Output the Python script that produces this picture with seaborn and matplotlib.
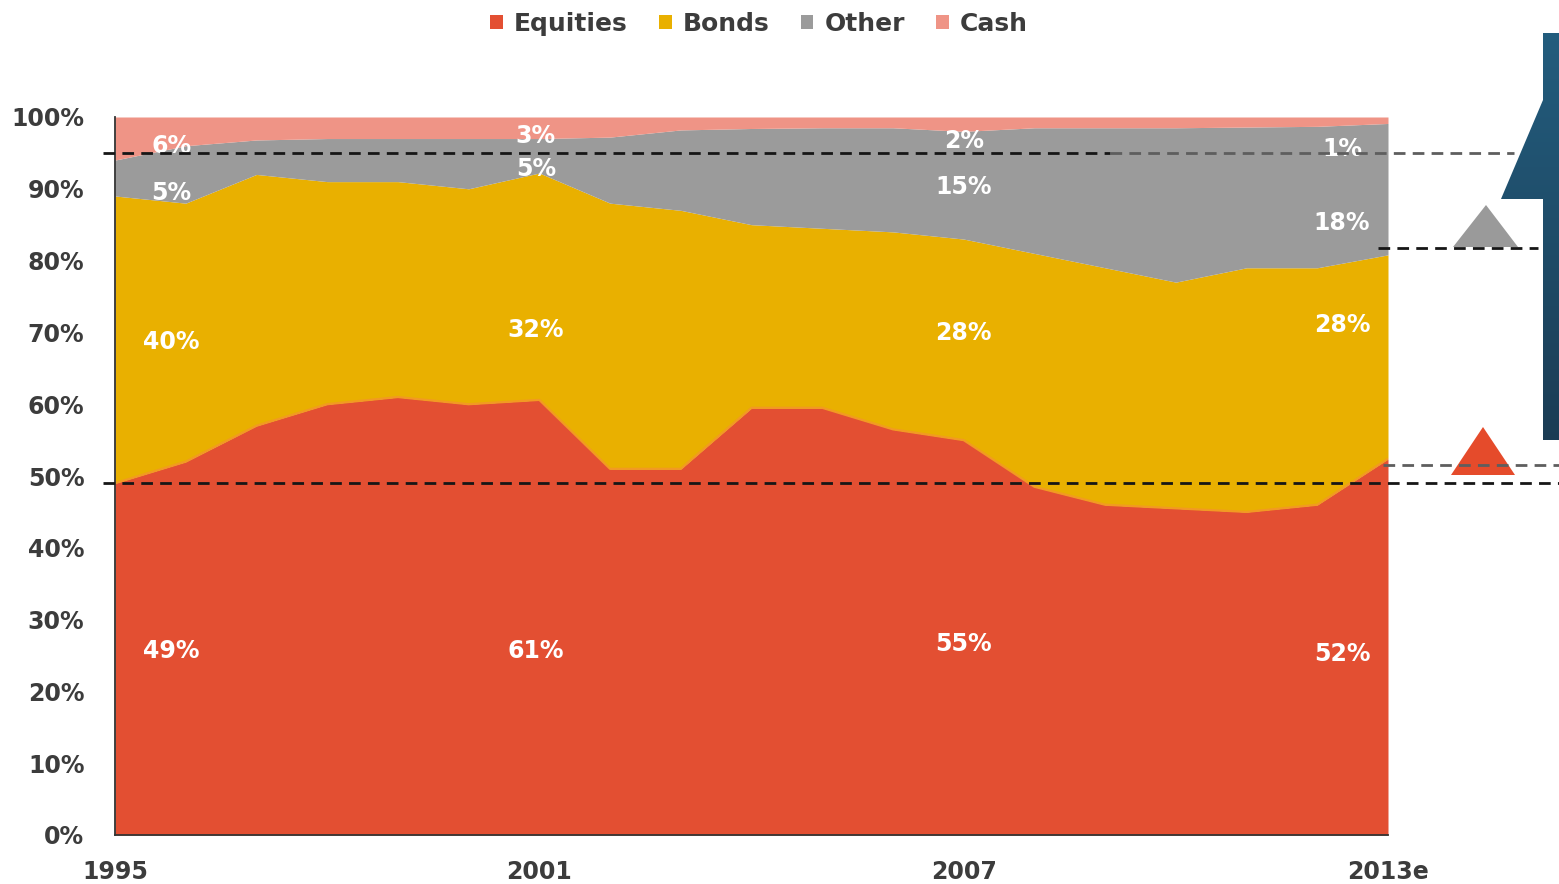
import numpy as np
import pandas as pd
import matplotlib
matplotlib.use("Agg")
import matplotlib.pyplot as plt
import matplotlib.transforms as mtransforms
from matplotlib.patches import Patch, Polygon
import seaborn as sns

# ---- data: portfolio allocation shares (%) ----
years = list(range(1995, 2014))
tick_years = [1995, 2001, 2007, 2013]
tick_labels = ["1995", "2001", "2007", "2013e"]

equities = [49, 52, 57, 60, 61, 60, 60.6, 51, 51, 59.5, 59.5, 56.5, 55, 48.5, 46, 45.5, 45, 46, 52.4]
bonds    = [40, 36, 35, 31, 30, 30, 31.6, 37, 36, 25.5, 25, 27.5, 28, 32.5, 33, 31.5, 34, 33, 28.4]
other    = [5, 8, 4.8, 6, 6, 7, 4.8, 9.2, 11.2, 13.4, 14, 14.5, 15, 17.5, 19.5, 21.5, 19.6, 19.7, 18.3]
cash     = [6, 4, 3.2, 3, 3, 3, 3.0, 2.8, 1.8, 1.6, 1.5, 1.5, 2, 1.5, 1.5, 1.5, 1.4, 1.3, 0.9]

assets = ["Equities", "Bonds", "Other", "Cash"]
colors = {"Equities": "#e34f32", "Bonds": "#e9b000", "Other": "#9b9b9b", "Cash": "#ef9486"}

series = {"Equities": equities, "Bonds": bonds, "Other": other, "Cash": cash}
df = pd.DataFrame(
    [(y, a, series[a][i]) for a in assets for i, y in enumerate(years)],
    columns=["year", "asset", "share"],
)
# cumulative top of the equities layer, used for the boundary edge
edge_df = pd.DataFrame({"year": years, "top": equities})

# ---- figure ----
sns.set_theme(style="white")
plt.rcParams["font.family"] = ["DejaVu Sans"]
W, H = 1559, 884
fig = plt.figure(figsize=(W / 100, H / 100), dpi=100)
ax = fig.add_axes([115 / W, 1 - 835 / H, (1388 - 115) / W, (835 - 117) / H])

# stacked area: seaborn stacks the last hue level at the bottom
sns.histplot(
    data=df, x="year", weights="share", hue="asset",
    hue_order=assets[::-1], palette=colors,
    multiple="stack", element="poly", discrete=True,
    alpha=1, linewidth=0, legend=False, ax=ax,
)
# soft orange seam between equities and bonds
sns.lineplot(data=edge_df, x="year", y="top", color="#f29a22", linewidth=1.6, ax=ax)

ax.set_xlim(1995, 2013)
ax.set_ylim(0, 100)
ax.set_xlabel("")
ax.set_ylabel("")
ax.set_xticks(tick_years)
ax.set_xticklabels(tick_labels)
ax.set_yticks(range(0, 101, 10))
ax.set_yticklabels([f"{v}%" for v in range(0, 101, 10)])
label_color = "#3c3c3c"
ax.tick_params(axis="y", length=0, pad=22, labelsize=17, labelcolor=label_color)
ax.tick_params(axis="x", length=0, pad=18, labelsize=17, labelcolor=label_color)
for t in ax.get_xticklabels() + ax.get_yticklabels():
    t.set_fontweight("bold")
for side in ("top", "right"):
    ax.spines[side].set_visible(False)
for side in ("left", "bottom"):
    ax.spines[side].set_color("#333333")
    ax.spines[side].set_linewidth(1.3)
ax.grid(False)

# ---- value labels at the labelled years ----
label_dx = {1995: 0.8, 2001: -0.05, 2007: 0.0, 2013: -0.65}
label_y = {
    "Equities": [25.6, 25.6, 26.6, 25.2],
    "Bonds":    [68.7, 70.3, 69.9, 71.0],
    "Other":    [89.4, 92.8, 90.2, 85.2],
    "Cash":     [96.0, 97.4, 96.7, 95.6],
}
for a in assets:
    for k, yr in enumerate(tick_years):
        v = series[a][years.index(yr)]
        ax.text(yr + label_dx[yr], label_y[a][k], f"{v:.0f}%", color="white",
                fontsize=17, fontweight="bold", ha="center", va="center")

# ---- legend ----
handles = [Patch(facecolor=colors[a], edgecolor="none", label=a) for a in assets]
fig.legend(handles=handles, loc="upper center", bbox_to_anchor=(0.487, 1.012),
           ncol=4, frameon=False, handlelength=0.5, handleheight=0.5,
           handletextpad=0.45, columnspacing=1.25,
           prop={"weight": "bold", "size": 18}, labelcolor=label_color)

# ---- overlay for guide lines and side markers (pixel x, data y) ----
ov = fig.add_axes([0, 0, 1, 1], zorder=5)
ov.set_xlim(0, W)
ov.set_ylim(H, 0)
ov.axis("off")
ov.patch.set_alpha(0)
mixed = mtransforms.blended_transform_factory(ov.transData, ax.transData)

dash = dict(linestyle=(0, (4.2, 2.6)), linewidth=2.0, clip_on=False)
guides = [
    (95.0, 103, 1110, "#161616"),
    (95.0, 1110, 1514, "#5e5e5e"),
    (81.8, 1378, 1538, "#161616"),
    (51.5, 1383, 1559, "#5e5e5e"),
    (49.0, 103, 1559, "#161616"),
]
for yv, x0, x1, c in guides:
    ov.plot([x0, x1], [yv, yv], color=c, transform=mixed, **dash)

# up-pointing markers beside the chart
ov.add_patch(Polygon([(1453, 247), (1486, 205), (1518, 247)], closed=True,
                     facecolor="#9a9a9a", edgecolor="none"))
ov.add_patch(Polygon([(1451, 475), (1483, 427), (1515, 475)], closed=True,
                     facecolor="#e54b2b", edgecolor="none"))

# large arrow shape on the right edge with vertical gradient
arrow = Polygon([(1543, 33), (1559, 33), (1559, 440), (1543, 440),
                 (1543, 199), (1501, 199), (1543, 100)], closed=True,
                facecolor="none", edgecolor="none")
ov.add_patch(arrow)
grad = np.linspace(0, 1, 256).reshape(-1, 1)
cmap = matplotlib.colors.LinearSegmentedColormap.from_list("blu", ["#235d7e", "#1b3c54"])
img = ov.imshow(grad, extent=[1495, 1559, 445, 28], cmap=cmap, aspect="auto",
                interpolation="bilinear")
img.set_clip_path(arrow)
ov.set_xlim(0, W)
ov.set_ylim(H, 0)

fig.savefig("out.png", dpi=100)
